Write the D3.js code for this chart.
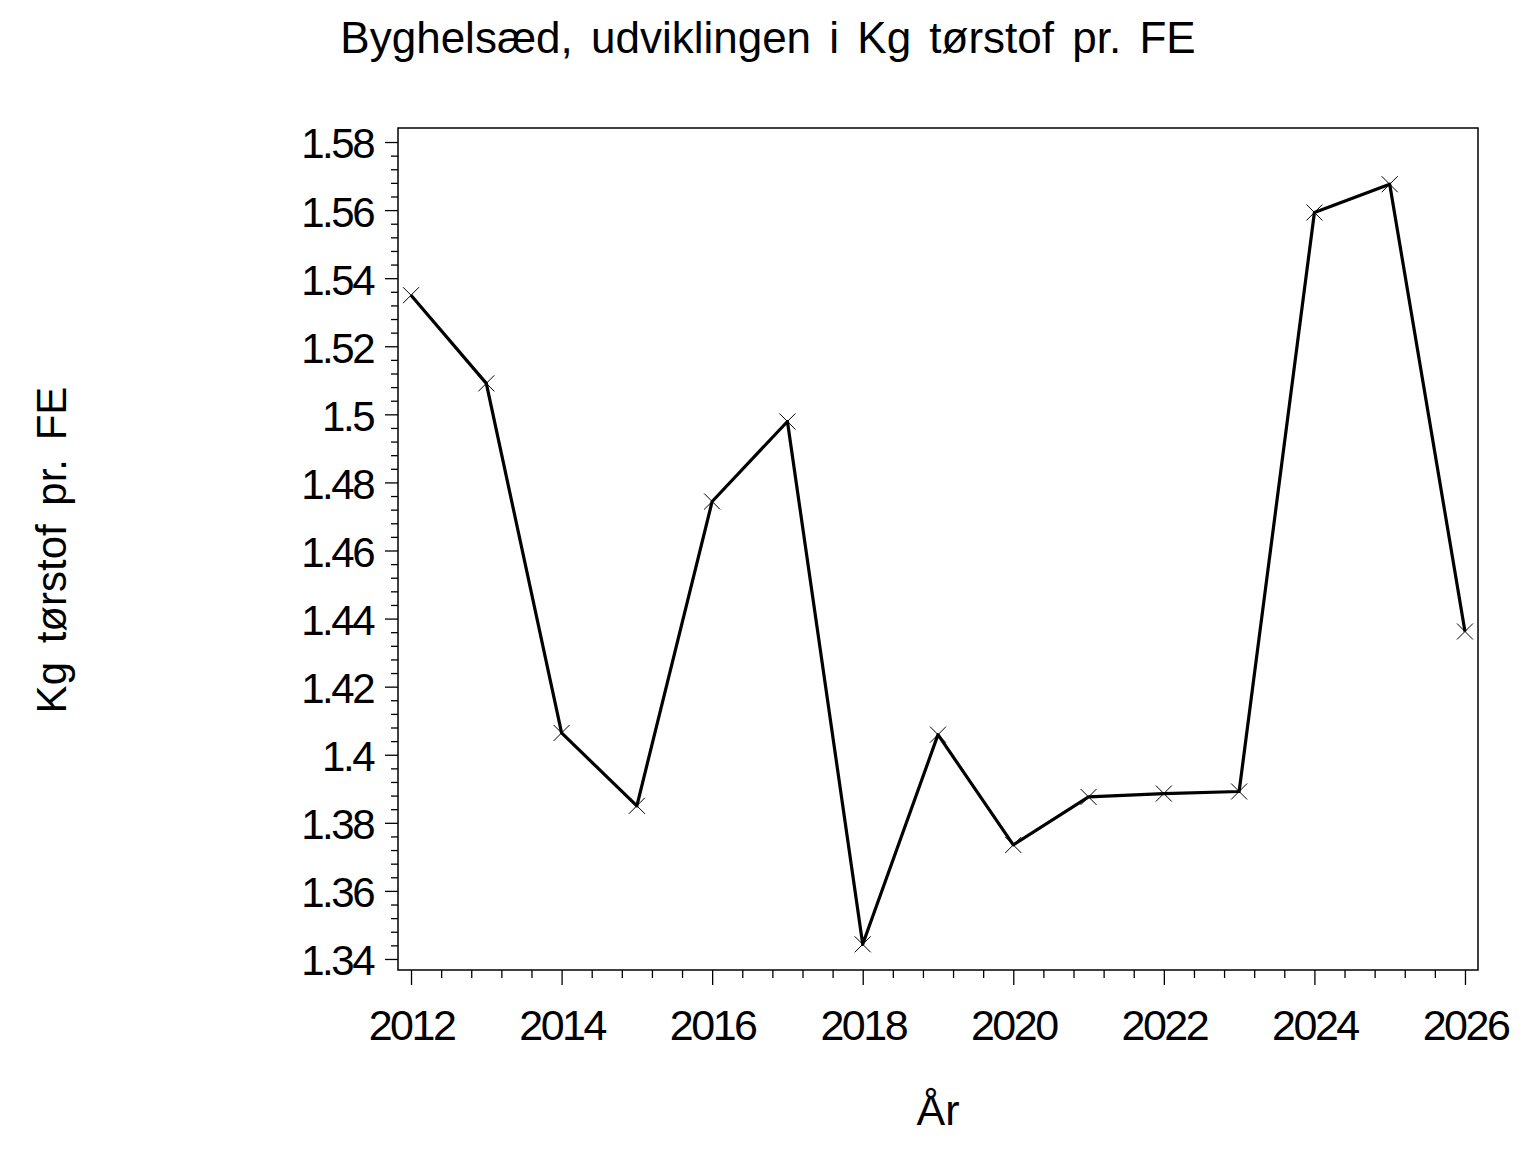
<!DOCTYPE html>
<html>
<head>
<meta charset="utf-8">
<script src="https://cdn.jsdelivr.net/npm/d3@7"></script>
<style>
  body { margin: 0; background: #fff; }
  text { font-family: "Liberation Sans", Arial, sans-serif; fill: #000; }
</style>
</head>
<body>
<script>
// chart data
var years = [2012, 2013, 2014, 2015, 2016, 2017, 2018, 2019, 2020, 2021, 2022, 2023, 2024, 2025, 2026];
var kgPerFE = [1.535, 1.5091, 1.4064, 1.385, 1.4744, 1.4979, 1.3443, 1.4059, 1.3735, 1.3876, 1.3886, 1.3892, 1.5593, 1.5676, 1.4362];

var yTicks = [1.34, 1.36, 1.38, 1.40, 1.42, 1.44, 1.46, 1.48, 1.50, 1.52, 1.54, 1.56, 1.58];
var yTickLabels = ['1.34', '1.36', '1.38', '1.4', '1.42', '1.44', '1.46', '1.48', '1.5', '1.52', '1.54', '1.56', '1.58'];
var xTicks = [2012, 2014, 2016, 2018, 2020, 2022, 2024, 2026];

var titleText = 'Byghelsæd, udviklingen i Kg tørstof pr. FE';
var yTitle = 'Kg tørstof pr. FE';
var xTitle = 'År';

// size
var width = 1536, height = 1152;
var plotLeft = 398, plotRight = 1478, plotTop = 128, plotBottom = 970;

var svg = d3.select('body').append('svg')
  .attr('width', width)
  .attr('height', height);

// scales, the frame is a bit wider than the tick range
var x = d3.scaleLinear()
  .domain([2011.827, 2026.173])
  .range([plotLeft, plotRight]);

var y = d3.scaleLinear()
  .domain([1.33676, 1.58412])
  .range([plotBottom, plotTop]);

// minor ticks: 4 between each pair of majors
var yMinor = [];
for (var i = 0; i < yTicks.length - 1; i++) {
  for (var k = 1; k < 5; k++) yMinor.push(yTicks[i] + k * 0.004);
}
var xMinor = [];
for (var j = 0; j < xTicks.length - 1; j++) {
  for (var m = 1; m < 5; m++) xMinor.push(xTicks[j] + m * 0.4);
}

// y axis
var yAxisG = svg.append('g').attr('transform', 'translate(' + plotLeft + ',0)');
yAxisG.append('g')
  .call(d3.axisLeft(y).tickValues(yMinor).tickSize(7).tickFormat(''))
  .call(g => g.select('.domain').remove());
yAxisG.append('g')
  .call(d3.axisLeft(y).tickValues(yTicks).tickSize(13).tickPadding(12)
    .tickFormat((d, i) => yTickLabels[i]))
  .call(g => g.select('.domain').remove());

// x axis
var xAxisG = svg.append('g').attr('transform', 'translate(0,' + plotBottom + ')');
xAxisG.append('g')
  .call(d3.axisBottom(x).tickValues(xMinor).tickSize(8).tickFormat(''))
  .call(g => g.select('.domain').remove());
xAxisG.append('g')
  .call(d3.axisBottom(x).tickValues(xTicks).tickSize(15).tickPadding(6).tickFormat(d3.format('d')))
  .call(g => g.select('.domain').remove());

svg.selectAll('.tick line').attr('stroke', '#000').attr('stroke-width', 1.3);

yAxisG.selectAll('.tick text')
  .attr('font-size', 42)
  .attr('letter-spacing', '-2.5px')
  .attr('dy', '0.38em');

xAxisG.selectAll('.tick text')
  .attr('font-size', 43)
  .attr('letter-spacing', '-2.5px')
  .attr('dy', '1.15em');

// frame
svg.append('rect')
  .attr('x', plotLeft)
  .attr('y', plotTop)
  .attr('width', plotRight - plotLeft)
  .attr('height', plotBottom - plotTop)
  .attr('fill', 'none')
  .attr('stroke', '#000')
  .attr('stroke-width', 1.5);

// line
var points = years.map((d, i) => ({year: d, value: kgPerFE[i]}));

var line = d3.line()
  .x(d => x(d.year))
  .y(d => y(d.value));

svg.append('path')
  .datum(points)
  .attr('d', line)
  .attr('fill', 'none')
  .attr('stroke', '#000')
  .attr('stroke-width', 3.2)
  .attr('stroke-linejoin', 'round');

// x markers
var s = 8;
svg.append('g').selectAll('path')
  .data(points)
  .enter()
  .append('path')
  .attr('d', d => {
    var cx = x(d.year), cy = y(d.value);
    return 'M' + (cx - s) + ',' + (cy - s) + 'L' + (cx + s) + ',' + (cy + s) +
           'M' + (cx - s) + ',' + (cy + s) + 'L' + (cx + s) + ',' + (cy - s);
  })
  .attr('stroke', '#000')
  .attr('stroke-width', 1)
  .attr('fill', 'none');

// titles
svg.append('text')
  .attr('x', 768)
  .attr('y', 53)
  .attr('text-anchor', 'middle')
  .attr('font-size', 44)
  .attr('word-spacing', '6px')
  .text(titleText);

svg.append('text')
  .attr('transform', 'translate(66,550) rotate(-90)')
  .attr('text-anchor', 'middle')
  .attr('font-size', 42)
  .attr('word-spacing', '7px')
  .text(yTitle);

svg.append('text')
  .attr('x', 938)
  .attr('y', 1125)
  .attr('text-anchor', 'middle')
  .attr('font-size', 43)
  .text(xTitle);
</script>
</body>
</html>
